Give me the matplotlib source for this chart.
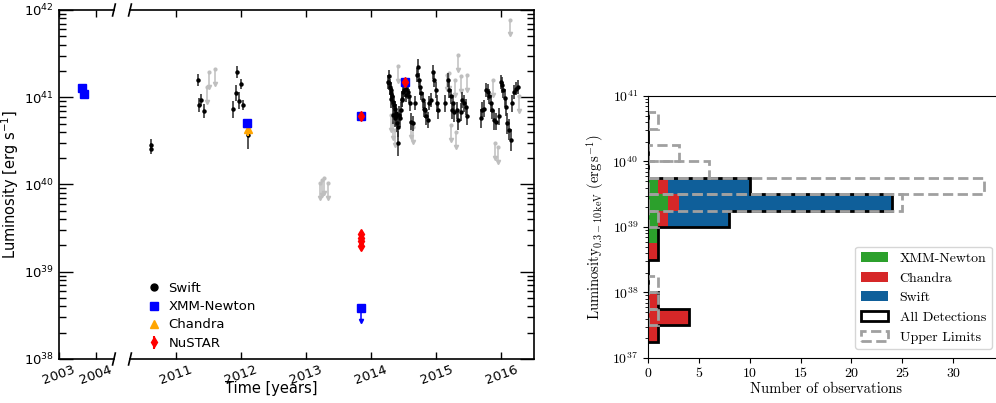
import matplotlib.pyplot as plt
import numpy as np
from matplotlib.lines import Line2D
from matplotlib.patches import Patch

# ---------------- light curve (left), luminosities as log10(L / erg s^-1) ----------------
swift_t = [2010.62, 2010.63, 2011.34, 2011.36, 2011.39, 2011.44, 2011.88, 2011.92, 2011.95,
           2011.97, 2012.00, 2012.04, 2012.11,
           2014.26, 2014.27, 2014.28, 2014.29, 2014.30, 2014.31, 2014.31, 2014.32, 2014.33,
           2014.34, 2014.35, 2014.36, 2014.37, 2014.38, 2014.39, 2014.40, 2014.41, 2014.42,
           2014.43, 2014.44, 2014.46, 2014.47, 2014.48, 2014.49, 2014.51, 2014.53, 2014.54,
           2014.56, 2014.58, 2014.60, 2014.62, 2014.64, 2014.67, 2014.70, 2014.72, 2014.73,
           2014.75, 2014.77, 2014.79, 2014.81, 2014.83, 2014.85, 2014.87, 2014.89, 2014.92,
           2014.95, 2014.97, 2014.99, 2015.01, 2015.03, 2015.14, 2015.18, 2015.20, 2015.22,
           2015.24, 2015.26, 2015.28, 2015.32, 2015.34, 2015.38, 2015.40, 2015.43, 2015.46,
           2015.48, 2015.69, 2015.71, 2015.74, 2015.76, 2015.79, 2015.81, 2015.84, 2015.86,
           2015.89, 2015.92, 2015.96, 2015.99, 2016.01, 2016.03, 2016.05, 2016.07, 2016.09,
           2016.12, 2016.15, 2016.17, 2016.20, 2016.22, 2016.25]
swift_logl = [40.45, 40.41, 41.20, 40.91, 40.97, 40.84, 40.86, 41.05, 41.29,
              40.96, 41.15, 40.91, 40.57,
              41.18, 41.24, 41.16, 41.12, 41.08, 41.05, 40.98, 41.01, 40.95,
              40.80, 40.91, 40.87, 40.76, 40.82, 40.78, 40.70, 40.47, 40.66,
              40.80, 40.76, 40.85, 40.97, 40.98, 41.06, 41.08, 41.02, 41.10,
              41.06, 41.01, 40.93, 40.72, 40.70, 40.93, 41.26, 41.35, 41.20,
              41.12, 41.05, 40.97, 40.87, 40.85, 40.78, 40.74, 40.93, 40.97,
              41.29, 41.20, 41.08, 40.93, 40.85, 40.93, 41.20, 41.08, 41.01,
              40.85, 40.93, 40.83, 40.85, 40.74, 40.83, 40.97, 40.93, 40.89,
              40.78, 40.76, 40.85, 40.87, 41.08, 41.06, 41.01, 40.93, 40.85,
              40.74, 40.72, 40.78, 41.18, 41.14, 41.08, 40.99, 40.89, 40.70,
              40.63, 40.51, 40.93, 41.06, 41.10, 41.12]
swift_err = [0.07, 0.06, 0.07, 0.08, 0.07, 0.08, 0.10, 0.09, 0.07,
             0.10, 0.06, 0.06, 0.16,
             0.08, 0.07, 0.08, 0.09, 0.09, 0.08, 0.10, 0.10, 0.09,
             0.11, 0.10, 0.09, 0.10, 0.10, 0.11, 0.10, 0.14, 0.12,
             0.10, 0.10, 0.09, 0.08, 0.09, 0.07, 0.08, 0.08, 0.07,
             0.08, 0.08, 0.09, 0.10, 0.09, 0.08, 0.08, 0.09, 0.08,
             0.09, 0.08, 0.09, 0.10, 0.09, 0.10, 0.09, 0.08, 0.08,
             0.08, 0.08, 0.09, 0.10, 0.10, 0.10, 0.08, 0.09, 0.09,
             0.10, 0.10, 0.11, 0.10, 0.11, 0.10, 0.09, 0.10, 0.09,
             0.10, 0.11, 0.10, 0.10, 0.08, 0.09, 0.09, 0.10, 0.10,
             0.11, 0.10, 0.10, 0.08, 0.09, 0.09, 0.10, 0.11, 0.12,
             0.12, 0.13, 0.10, 0.08, 0.08, 0.08]

swift_ul_t = [2011.48, 2011.51, 2011.60, 2013.22, 2013.25, 2013.28, 2013.34, 2014.30,
              2014.33, 2014.36, 2014.42, 2014.61, 2014.64, 2015.17, 2015.19, 2015.22,
              2015.29, 2015.30, 2015.34, 2015.38, 2015.48, 2015.87, 2015.90, 2015.95,
              2016.13, 2016.27]
swift_ul_logl = [41.12, 41.29, 41.32, 40.02, 40.05, 40.07, 40.02, 40.80,
                 40.70, 40.62, 41.36, 40.72, 40.66, 41.26, 41.28, 40.68,
                 41.20, 40.60, 41.48, 41.24, 41.25, 41.20, 40.47, 40.43,
                 41.89, 41.01]

xmm_t = [2003.64, 2003.68, 2012.10, 2013.85, 2014.52]
xmm_logl = [41.11, 41.04, 40.71, 40.79, 41.18]
xmm_ul_t = [2013.84]
xmm_ul_logl = [38.58]

chandra_t = [2012.09, 2012.11]
chandra_logl = [40.70, 40.64]
chandra_err = [0.05, 0.08]

nustar_t = [2013.85, 2013.85, 2013.85, 2013.85, 2013.85, 2014.52]
nustar_logl = [40.79, 39.43, 39.39, 39.35, 39.30, 41.18]
nustar_err = [0.03, 0.04, 0.04, 0.04, 0.05, 0.03]

# ---------------- histogram (right) ----------------
bin_edges = [37.25, 37.5, 37.75, 38.0, 38.25, 38.5, 38.75, 39.0, 39.25, 39.5,
             39.75, 40.0, 40.25, 40.5, 40.75]
xmm_counts = [0, 0, 0, 0, 0, 0, 1, 1, 2, 1, 0, 0, 0, 0]
chandra_counts = [1, 4, 1, 0, 0, 1, 0, 1, 1, 1, 0, 0, 0, 0]
swift_counts = [0, 0, 0, 0, 0, 0, 0, 6, 21, 8, 0, 0, 0, 0]
ul_counts = [0, 1, 1, 1, 0, 0, 0, 1, 25, 33, 6, 3, 0, 1]


def asym(logl, err):
    L = 10 ** np.asarray(logl)
    e = np.asarray(err)
    return L, [L - L * 10 ** -e, L * 10 ** e - L]


def ul_arrows(ax, t, logl, color, length=0.17, ms=3):
    t = np.asarray(t)
    top = 10 ** np.asarray(logl)
    bot = top * 10 ** -length
    ax.vlines(t, bot, top, color=color, lw=1.1, zorder=2)
    ax.plot(t, bot, 'v', color=color, ms=ms, mec=color, zorder=2)
    ax.plot(t, top, 'o', color=color, ms=2, zorder=2)


def lightcurve(ax):
    ul_arrows(ax, swift_ul_t, swift_ul_logl, '0.75')
    L, e = asym(swift_logl, swift_err)
    ax.errorbar(swift_t, L, yerr=e, fmt='o', ms=2.2, color='k', ecolor='0.15',
                elinewidth=1.1, capsize=0, zorder=3)
    L, e = asym(chandra_logl, chandra_err)
    ax.errorbar(chandra_t, L, yerr=e, fmt='^', ms=6, color='orange', mec='orange',
                elinewidth=1.5, capsize=0, zorder=4)
    L = 10 ** np.asarray(xmm_logl)
    ax.plot(xmm_t, L, 's', ms=5.5, color='blue', mec='blue', zorder=5)
    ul_arrows(ax, xmm_ul_t, np.asarray(xmm_ul_logl), 'blue', length=0.15, ms=3)
    ax.plot(xmm_ul_t, 10 ** np.asarray(xmm_ul_logl), 's', ms=5.5, color='blue', zorder=5)
    L, e = asym(nustar_logl, nustar_err)
    nu = ax.errorbar(nustar_t, L, yerr=e, fmt='d', ms=5, color='red', mec='red',
                     elinewidth=1.5, capsize=0, zorder=6)
    return nu


fig = plt.figure(figsize=(9.96, 4.03), dpi=100)
axA = fig.add_axes([0.0592, 0.1092, 0.0552, 0.866])
axB = fig.add_axes([0.1305, 0.1092, 0.4056, 0.866])
axH = fig.add_axes([0.6506, 0.1117, 0.3574, 0.6501])

lightcurve(axA)
nu = lightcurve(axB)

for ax in (axA, axB):
    ax.set_yscale('log')
    ax.set_ylim(1e38, 1e42)
    for s in ax.spines.values():
        s.set_linewidth(1.2)
    ax.tick_params(which='both', direction='in', top=True, labelsize=9.5, width=1)
    ax.tick_params(axis='x', length=5, labelrotation=20, pad=3)
    ax.tick_params(axis='y', which='major', length=10)
    ax.tick_params(axis='y', which='minor', length=5)

axA.set_xlim(2003, 2004.5)
axA.set_xticks([2003, 2004])
axA.spines['right'].set_visible(False)
axA.tick_params(axis='y', which='both', right=False)
axA.set_ylabel('Luminosity [erg s$^{-1}$]', fontsize=10.5, labelpad=2)

axB.set_xlim(2010.3, 2016.5)
axB.set_xticks([2011, 2012, 2013, 2014, 2015, 2016])
axB.spines['left'].set_visible(False)
axB.tick_params(axis='y', which='both', left=False, right=True, labelleft=False)

# break marks
kw = dict(color='k', lw=1.2, clip_on=False)
for yy in (0, 1):
    axA.plot([1 - 0.025, 1 + 0.025], [yy - 0.017, yy + 0.017], transform=axA.transAxes, **kw)
    axB.plot([-0.0035, 0.0035], [yy - 0.017, yy + 0.017], transform=axB.transAxes, **kw)

fig.text(0.272, 0.037, 'Time [years]', ha='center', va='center', fontsize=10.5)

handles = [Line2D([], [], marker='o', color='k', ls='none', ms=5),
           Line2D([], [], marker='s', color='blue', ls='none', ms=5.5),
           Line2D([], [], marker='^', color='orange', ls='none', ms=6),
           nu]
axB.legend(handles, ['Swift', 'XMM-Newton', 'Chandra', 'NuSTAR'], loc='lower left',
           bbox_to_anchor=(0.02, 0.0), frameon=False, fontsize=9.5, numpoints=1,
           handlelength=1.0, handletextpad=0.6, labelspacing=0.4, borderaxespad=0.3)

# ---------------- histogram ----------------
edges = 10 ** np.asarray(bin_edges)
lo, hi = edges[:-1], edges[1:]
xc = np.asarray(xmm_counts)
cc = np.asarray(chandra_counts)
sc = np.asarray(swift_counts)
col_xmm, col_ch, col_sw = '#2ca02c', '#d62728', '#0f5f9a'
axH.barh(lo, xc, height=hi - lo, align='edge', color=col_xmm, lw=0)
axH.barh(lo, cc, height=hi - lo, left=xc, align='edge', color=col_ch, lw=0)
axH.barh(lo, sc, height=hi - lo, left=xc + cc, align='edge', color=col_sw, lw=0)
axH.stairs(xc + cc + sc, edges, orientation='horizontal', baseline=0, color='k', lw=2)
ul = np.asarray(ul_counts)
m = ul > 0
axH.barh(lo[m], ul[m], height=(hi - lo)[m], align='edge', fill=False,
         edgecolor='#a0a0a0', lw=2, ls='--')

axH.set_yscale('log')
axH.set_ylim(1e37, 1e41)
axH.set_xlim(0, 35)
axH.set_yticks([1e37, 1e38, 1e39, 1e40, 1e41],
               labels=[r'$10^{37}$', r'$10^{38}$', r'$10^{39}$', r'$10^{40}$', r'$10^{41}$'])
axH.set_xticks([0, 5, 10, 15, 20, 25, 30], labels=['0', '5', '10', '15', '20', '25', '30'])
for lbl in axH.get_yticklabels() + axH.get_xticklabels():
    lbl.set_fontfamily('cmr10')
    lbl.set_math_fontfamily('cm')
    lbl.set_fontsize(10)
axH.set_xlabel('Number of observations', fontfamily='cmr10', fontsize=10.5, labelpad=2)
axH.set_ylabel(r'Luminosity$_{0.3-10\,\mathrm{keV}}\ (\mathrm{erg\,s^{-1}})$',
               fontfamily='cmr10', math_fontfamily='cm', fontsize=10.5, labelpad=4)

hh = [Patch(facecolor=col_xmm), Patch(facecolor=col_ch), Patch(facecolor=col_sw),
      Patch(facecolor='white', edgecolor='k', lw=2),
      Patch(facecolor='white', edgecolor='#a0a0a0', lw=2, ls='--')]
axH.legend(hh, ['XMM-Newton', 'Chandra', 'Swift', 'All Detections', 'Upper Limits'],
           loc='lower right', bbox_to_anchor=(0.966, 0.034), borderaxespad=0,
           prop={'family': 'cmr10', 'size': 10})

fig.savefig('out.png', dpi=100)
